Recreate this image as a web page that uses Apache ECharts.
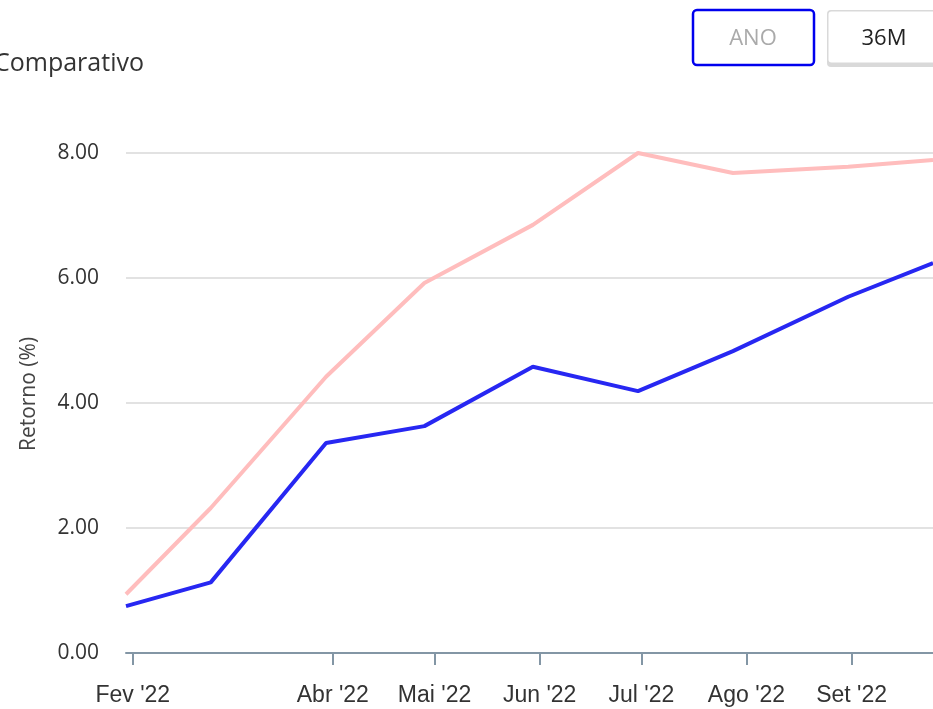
<!DOCTYPE html>
<html>
<head>
<meta charset="utf-8">
<script src="https://cdn.jsdelivr.net/npm/echarts@6/dist/echarts.min.js"></script>
<style>
  html, body { margin: 0; padding: 0; background: #fff; }
  #chart { width: 933px; height: 709px; }
</style>
</head>
<body>
<div id="chart"></div>
<script>
// datas (fim de cada mes, aprox.)
var dates = ['2022-01-30', '2022-02-24', '2022-03-30', '2022-04-28', '2022-05-30',
             '2022-06-30', '2022-07-28', '2022-08-31', '2022-09-25'];
var rosa = [0.94, 2.32, 4.42, 5.92, 6.85, 8.00, 7.68, 7.78, 7.89];
var azul = [0.75, 1.13, 3.36, 3.63, 4.58, 4.19, 4.83, 5.70, 6.24];
var tickDates = ['2022-02-01', '2022-04-01', '2022-05-01', '2022-06-01',
                 '2022-07-01', '2022-08-01', '2022-09-01'];
var meses = ['Jan', 'Fev', 'Mar', 'Abr', 'Mai', 'Jun', 'Jul', 'Ago', 'Set', 'Out', 'Nov', 'Dez'];

function ts(s) {
    var p = s.split('-');
    return new Date(+p[0], +p[1] - 1, +p[2]).getTime();
}

var chart = echarts.init(document.getElementById('chart'));

var ticks = tickDates.map(ts);

var option = {
    animation: false,
    title: {
        text: 'Comparativo',
        left: -6,
        top: 51,
        padding: 0,
        textStyle: {
            fontFamily: 'Open Sans',
            fontWeight: 'normal',
            fontSize: 25,
            color: '#333'
        }
    },
    grid: {
        left: 126,
        right: 0,
        top: 153,
        bottom: 56
    },
    // eixo de valores com timestamps (ticks nos inicios de mes)
    xAxis: {
        type: 'value',
        min: ts(dates[0]),
        max: ts(dates[dates.length - 1]),
        offset: 3,
        axisLine: { lineStyle: { color: '#8396a5', width: 2 } },
        axisTick: {
            show: true,
            length: 12,
            customValues: ticks,
            lineStyle: { color: '#8396a5', width: 2 }
        },
        axisLabel: {
            customValues: ticks,
            margin: 28,
            fontFamily: 'Liberation Sans',
            fontSize: 23,
            color: '#333',
            formatter: function (v) {
                var d = new Date(v);
                return meses[d.getMonth()] + " '" + String(d.getFullYear()).slice(2);
            }
        },
        splitLine: { show: false }
    },
    yAxis: {
        type: 'value',
        min: 0,
        max: 8,
        interval: 2,
        name: 'Retorno (%)',
        nameLocation: 'middle',
        nameGap: 86,
        nameTextStyle: {
            fontFamily: 'Open Sans',
            fontSize: 21,
            color: '#444',
            padding: [0, 0, 0, 18]
        },
        axisLine: { show: false },
        axisTick: { show: false },
        axisLabel: {
            margin: 27,
            fontFamily: 'Open Sans',
            fontSize: 21,
            color: '#333',
            formatter: function (v) { return v.toFixed(2); }
        },
        splitLine: { lineStyle: { color: '#e2e2e2', width: 2 } }
    },
    series: [{
        name: 'Benchmark',
        type: 'line',
        showSymbol: false,
        data: dates.map(function (d, i) { return [ts(d), rosa[i]]; }),
        lineStyle: { color: '#ffbdbd', width: 4 },
        itemStyle: { color: '#ffbdbd' }
    }, {
        name: 'Carteira',
        type: 'line',
        showSymbol: false,
        data: dates.map(function (d, i) { return [ts(d), azul[i]]; }),
        lineStyle: { color: '#2727f2', width: 4 },
        itemStyle: { color: '#2727f2' }
    }],
    graphic: [{
        type: 'rect',
        shape: { x: 693, y: 10, width: 121, height: 55, r: 4 },
        style: { fill: '#fff', stroke: '#0000ee', lineWidth: 2.5 }
    }, {
        type: 'text',
        x: 753, y: 39,
        style: {
            text: 'ANO',
            fontFamily: 'Open Sans',
            fontSize: 22,
            fill: '#aaaaaa',
            align: 'center',
            verticalAlign: 'middle'
        }
    }, {
        type: 'rect',
        shape: { x: 827, y: 10, width: 124, height: 57, r: 4 },
        style: { fill: '#d9d9d9' }
    }, {
        type: 'rect',
        shape: { x: 828.5, y: 11.5, width: 121, height: 51, r: 3 },
        style: { fill: '#fff' }
    }, {
        type: 'text',
        x: 884, y: 39,
        style: {
            text: '36M',
            fontFamily: 'Open Sans',
            fontSize: 22,
            fill: '#222',
            align: 'center',
            verticalAlign: 'middle'
        }
    }]
};

chart.setOption(option);
</script>
</body>
</html>
